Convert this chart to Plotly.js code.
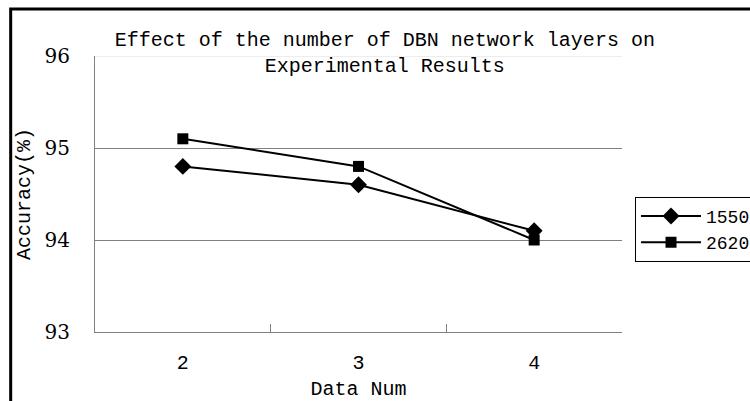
<!DOCTYPE html>
<html>
<head>
<meta charset="utf-8">
<script src="https://cdn.plot.ly/plotly-3.0.1.min.js"></script>
<style>
html,body{margin:0;padding:0;background:#fff;}
#chart{width:750px;height:401px;}
</style>
</head>
<body>
<div id="chart"></div>
<script>
const categories = ['2', '3', '4'];
const series1Name = '1550';
const series1Values = [94.8, 94.6, 94.1];
const series2Name = '2620';
const series2Values = [95.1, 94.8, 94.0];
const yTickVals = [93, 94, 95, 96];
const yTickText = ['93', '94', '95', '96'];

const mono = 'Liberation Mono';
const serif = 'DejaVu Serif';

const traces = [
  {
    x: categories, y: series1Values, name: series1Name,
    type: 'scatter', mode: 'lines+markers',
    line: {color: '#000', width: 2},
    marker: {symbol: 'diamond', size: 13, color: '#000'}
  },
  {
    x: categories, y: series2Values, name: series2Name,
    type: 'scatter', mode: 'lines+markers',
    line: {color: '#000', width: 2},
    marker: {symbol: 'square', size: 11, color: '#000'}
  }
];

const layout = {
  width: 750, height: 401,
  margin: {l: 95, r: 128, t: 56, b: 69, autoexpand: false},
  paper_bgcolor: '#fff', plot_bgcolor: '#fff',
  showlegend: true,
  title: {
    text: 'Effect of the number of DBN network layers on<br>Experimental Results',
    font: {family: mono, size: 20, color: '#000'},
    xref: 'paper', x: 0.55, xanchor: 'center',
    yref: 'container', y: 0.885, yanchor: 'top'
  },
  xaxis: {
    type: 'category',
    categoryorder: 'array', categoryarray: categories,
    range: [-0.5, 2.5],
    showline: true, linecolor: '#808080', linewidth: 1,
    ticks: 'inside', tickson: 'boundaries', ticklen: 8, tickcolor: '#808080',
    showgrid: false, zeroline: false,
    tickfont: {family: mono, size: 20, color: '#000'},
    ticklabelstandoff: 12,
    title: {text: 'Data Num', font: {family: mono, size: 20, color: '#000'}, standoff: 8}
  },
  yaxis: {
    range: [93, 96],
    tickvals: yTickVals, ticktext: yTickText,
    showline: true, linecolor: '#808080', linewidth: 1,
    ticks: 'inside', ticklen: 8, tickcolor: '#808080',
    showgrid: true, gridcolor: '#808080', gridwidth: 1,
    zeroline: false,
    tickfont: {family: serif, size: 20, color: '#000'},
    ticklabelstandoff: 20,
    title: {text: 'Accuracy(%)', font: {family: mono, size: 20, color: '#000'}, standoff: 8}
  },
  legend: {
    x: 1.0247, xanchor: 'left',
    y: 0.49, yanchor: 'top',
    bgcolor: '#fff', bordercolor: '#000', borderwidth: 1,
    font: {family: mono, size: 18, color: '#000'},
    itemwidth: 60,
    traceorder: 'normal'
  },
  shapes: [
    {type: 'line', xref: 'paper', yref: 'y', x0: 0, x1: 1, y0: 96, y1: 96,
     line: {color: '#dcdcdc', width: 1}, layer: 'below'},
    {type: 'path', xref: 'paper', yref: 'paper',
     path: 'M -0.160,-0.3 L -0.160,1.170 L 1.3,1.170',
     line: {color: '#000', width: 3}, layer: 'above'}
  ]
};

Plotly.newPlot('chart', traces, layout, {displayModeBar: false, staticPlot: true});
</script>
</body>
</html>
